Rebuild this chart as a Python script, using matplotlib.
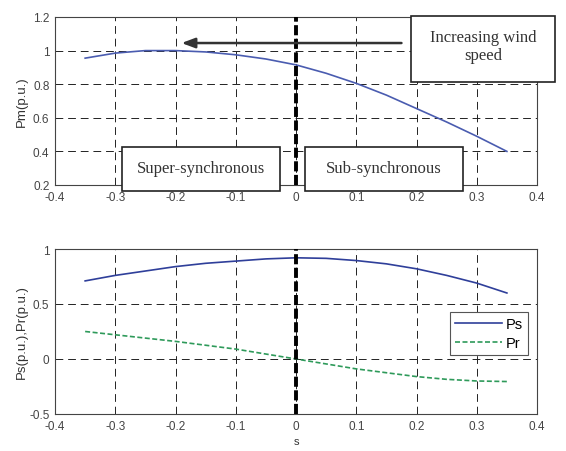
import matplotlib
matplotlib.use('Agg')
import matplotlib.pyplot as plt
from matplotlib.patches import Rectangle

# slip values
s = [-0.35, -0.3, -0.25, -0.2, -0.15, -0.1, -0.05, 0.0, 0.05, 0.1, 0.15, 0.2, 0.25, 0.3, 0.35]

# mechanical power
pm = [0.955, 0.985, 1.0, 1.0, 0.992, 0.975, 0.95, 0.915, 0.865, 0.805, 0.735, 0.655, 0.575, 0.49, 0.40]

# stator and rotor power
ps = [0.71, 0.76, 0.80, 0.84, 0.87, 0.89, 0.91, 0.92, 0.915, 0.895, 0.865, 0.82, 0.76, 0.69, 0.60]
pr = [0.25, 0.22, 0.19, 0.16, 0.125, 0.09, 0.045, 0.0, -0.045, -0.09, -0.125, -0.16, -0.185, -0.20, -0.205]

xticks = [-0.4, -0.3, -0.2, -0.1, 0, 0.1, 0.2, 0.3, 0.4]
xtick_labels = ['-0.4', '-0.3', '-0.2', '-0.1', '0', '0.1', '0.2', '0.3', '0.4']

plt.rcParams['font.family'] = ['Liberation Sans', 'DejaVu Sans']

fig = plt.figure(figsize=(5.66, 4.52), dpi=100)
ax1 = fig.add_axes([0.0972, 0.5885, 0.8516, 0.3717])
ax2 = fig.add_axes([0.0972, 0.0819, 0.8516, 0.365])

grid_kw = dict(color='#222222', linestyle=(0, (8, 5)), linewidth=0.7)
zero_kw = dict(color='black', linestyle=(0, (2.6, 0.9)), linewidth=2.8, zorder=4)

# top plot
ax1.plot(s, pm, color='#4a5cb0', linewidth=1.2, zorder=3)
ax1.axvline(0, **zero_kw)
ax1.set_xlim(-0.4, 0.4)
ax1.set_ylim(0.2, 1.2)
ax1.set_yticks([0.2, 0.4, 0.6, 0.8, 1.0, 1.2])
ax1.set_yticklabels(['0.2', '0.4', '0.6', '0.8', '1', '1.2'])
ax1.set_xticks(xticks)
ax1.set_xticklabels(xtick_labels)
ax1.grid(True, **grid_kw)
ax1.set_ylabel('Pm(p.u.)', fontsize=9.5, labelpad=4, color='#333333')
ax1.annotate('', xy=(-0.19, 1.045), xytext=(0.175, 1.045),
             arrowprops=dict(arrowstyle='-|>,head_length=0.8,head_width=0.3',
                             color='#333333', lw=1.8, shrinkA=0, shrinkB=0),
             zorder=5)

# bottom plot
ax2.plot(s, ps, color='#2f3f9a', linewidth=1.2, label='Ps', zorder=3)
ax2.plot(s, pr, color='#2e9a5a', linewidth=1.2, linestyle=(0, (3, 1.5)), label='Pr', zorder=3)
ax2.axvline(0, **zero_kw)
ax2.set_xlim(-0.4, 0.4)
ax2.set_ylim(-0.5, 1.0)
ax2.set_yticks([-0.5, 0, 0.5, 1.0])
ax2.set_yticklabels(['-0.5', '0', '0.5', '1'])
ax2.set_xticks(xticks)
ax2.set_xticklabels(xtick_labels)
ax2.grid(True, **grid_kw)
ax2.set_ylabel('Ps(p.u.),Pr(p.u.)', fontsize=9.5, labelpad=1, color='#333333')
ax2.set_xlabel('s', fontsize=8, labelpad=3, color='#333333')
leg = ax2.legend(loc='lower right', bbox_to_anchor=(0.982, 0.355), fontsize=10.5,
                 fancybox=False, framealpha=1, edgecolor='#555555',
                 handlelength=3.2, borderpad=0.35, labelspacing=0.35,
                 handletextpad=0.3, borderaxespad=0)
leg.get_frame().set_linewidth(0.8)
leg.set_zorder(6)

for ax in (ax1, ax2):
    ax.tick_params(labelsize=8.5, length=0, pad=4, colors='#444444')
    for sp in ax.spines.values():
        sp.set_color('#444444')
        sp.set_linewidth(0.8)

# text boxes in figure pixel coordinates (x0, y0, x1, y1, text centre y)
W, H = 566.0, 452.0
boxes = [
    (411, 17, 555, 83, 47, 'Increasing wind\nspeed'),
    (122, 148, 280, 192, 169, 'Super-synchronous'),
    (305, 148, 463, 192, 169, 'Sub-synchronous'),
]
for x0, y0, x1, y1, ty, txt in boxes:
    rect = Rectangle((x0 / W, 1 - y1 / H), (x1 - x0) / W, (y1 - y0) / H,
                     transform=fig.transFigure, facecolor='white',
                     edgecolor='#222222', linewidth=1.2, zorder=10)
    fig.add_artist(rect)
    fig.text((x0 + x1) / 2 / W, 1 - ty / H, txt,
             ha='center', va='center', fontsize=12,
             family=['Liberation Serif', 'DejaVu Serif'],
             color='#333333', zorder=11, linespacing=1.25)

fig.savefig('out.png', dpi=100)
